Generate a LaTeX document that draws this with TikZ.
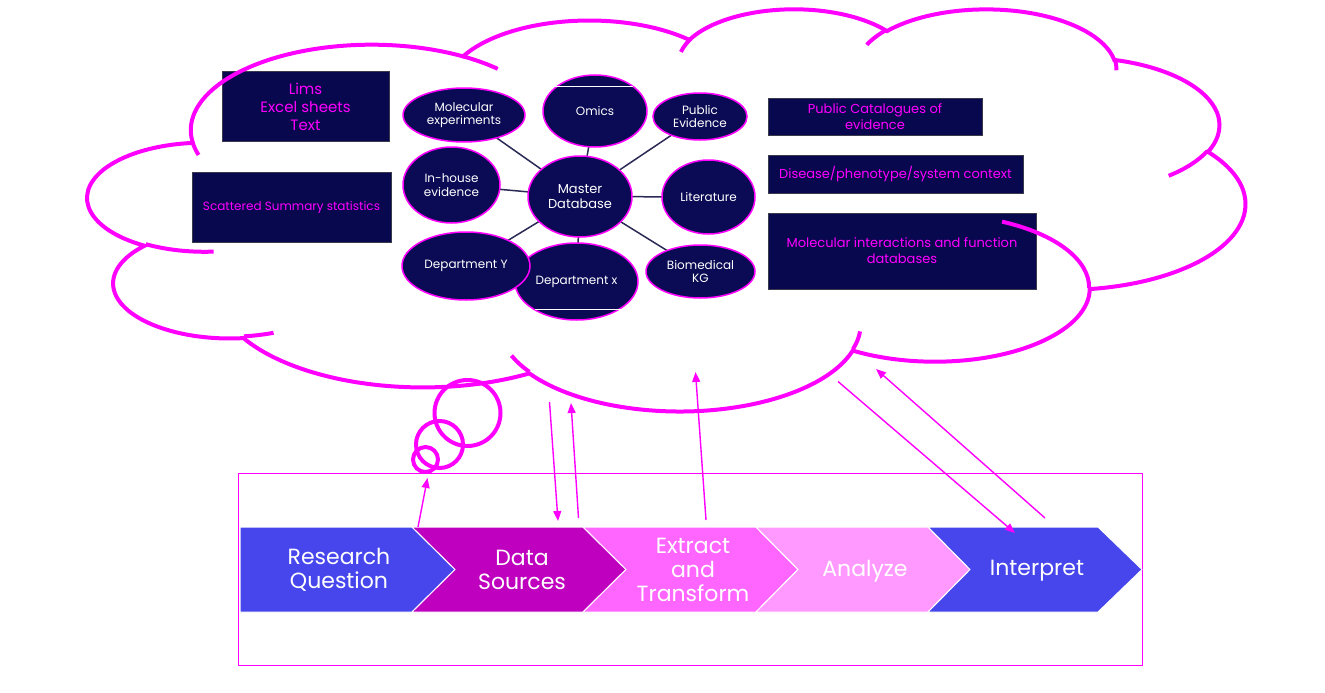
\documentclass[tikz,border=0pt]{standalone}
\usepackage{fontspec}
\setmainfont{Poppins}
\usetikzlibrary{shapes.geometric,arrows.meta}
\definecolor{mag}{HTML}{FF00FF}
\definecolor{navy}{HTML}{0A0A55}
\definecolor{boxnavy}{HTML}{08084F}
\definecolor{boxedge}{HTML}{3A3A4A}
\definecolor{linec}{HTML}{2A2A55}
\definecolor{rqblue}{HTML}{4646EC}
\definecolor{dsmag}{HTML}{BF00BF}
\definecolor{etpink}{HTML}{FF66FF}
\definecolor{anpink}{HTML}{FF99FF}
\newcommand\cldarc[4]{%
 \pgfextra{%
  \pgfmathparse{atan2((#1)*sin(#3),(#2)*cos(#3))}\let\cldt\pgfmathresult
  \pgfmathparse{\cldt+360*round(((#3)-\cldt)/360)}\global\let\cldtA\pgfmathresult
  \pgfmathparse{atan2((#1)*sin((#3)+(#4)),(#2)*cos((#3)+(#4)))}\let\cldt\pgfmathresult
  \pgfmathparse{\cldt+360*round(((#3)+(#4)-\cldt)/360)-\cldtA}\global\let\cldD\pgfmathresult
 }%
 arc[start angle=\cldtA, delta angle=\cldD, x radius=#1pt, y radius=#2pt]%
}
\tikzset{
  cloudline/.style={draw=mag, line width=4pt},
  darkbox/.style={draw=boxedge, line width=1pt, fill=boxnavy, text=mag, align=center, inner sep=0pt},
  ell/.style={ellipse, draw=mag, line width=1.5pt, fill=navy, text=white, inner sep=0pt, align=center, font=\fontsize{12}{13.5}\selectfont},
  spoke/.style={draw=linec, line width=1.5pt},
  chev/.style={fill=#1, draw=white, line width=1pt},
  chevtext/.style={text=white, align=center, font=\fontsize{22}{24}\selectfont},
  bubble/.style={draw=mag, line width=4pt},
  flow/.style={draw=mag, line width=1.4pt, -{Triangle[length=10pt,width=8pt]}},
}
\begin{document}
\begin{tikzpicture}[x=1pt,y=1pt,yscale=-1]
\useasboundingbox[fill=white] (0,0) rectangle (1325,693);

% dark boxes
\node[darkbox, minimum width=167, minimum height=69, font=\fontsize{15}{18}\selectfont] (lims) at (305.5,106.5) {Lims\\Excel sheets\\Text};
\node[darkbox, minimum width=199, minimum height=70, font=\fontsize{12}{14}\selectfont] (scat) at (291.5,207.5) {Scattered Summary statistics};
\node[darkbox, minimum width=214, minimum height=37, font=\fontsize{13}{16}\selectfont] (pubcat) at (875,116.5) {Public Catalogues of\\evidence};
\node[darkbox, minimum width=255, minimum height=38, font=\fontsize{13}{16}\selectfont] (dis) at (895.5,174.5) {Disease/phenotype/system context};
\node[darkbox, minimum width=268, minimum height=76, font=\fontsize{13}{16}\selectfont] (molint) at (902,251) {Molecular interactions and function\\databases};

% spokes
\coordinate (mc) at (580,196.5);
\foreach \p in {(464,115),(595,111),(700,116),(451,185),(708,197),(466,266),(576.5,281.5),(700,271)}
  \draw[spoke] (mc) -- \p;

% ellipses
\node[ell, minimum width=122, minimum height=54] (molexp) at (464,115) {Molecular\\experiments};
\node[ell, minimum width=104, minimum height=72] (omics) at (595,111) {Omics};
\node[ell, minimum width=94, minimum height=47] (pubev) at (700,116.5) {Public\\Evidence};
\node[ell, minimum width=97, minimum height=76] (inhouse) at (451.5,185) {In-house\\evidence};
\node[ell, minimum width=104, minimum height=81, font=\fontsize{13}{15}\selectfont] (master) at (580,196.5) {Master\\Database};
\node[ell, minimum width=93, minimum height=74] (lit) at (708.5,197) {Literature};
\node[ell, minimum width=123, minimum height=77] (deptx) at (576.5,281.5) {Department x};
\node[ell, minimum width=128, minimum height=68] (depty) at (466,266) {Department Y};
\node[ell, minimum width=109, minimum height=53] (bkg) at (700.5,271.5) {Biomedical\\KG};
\draw[white, line width=1pt] (548,86) -- (633,86);
\draw[white, line width=1pt] (535,309.5) -- (625,309.5);

% cloud
\begin{scope}[shift={(88,8)}, xscale=0.267824, yscale=0.093056]
\draw[cloudline] (390,1437)
  \cldarc{675.3}{919}{-190.4875}{123.7805}
  \cldarc{533.3}{726.7}{-144.1024}{89.9452}
  \cldarc{436.5}{594.5}{-145.8079}{99.7230}
  \cldarc{485.7}{659.5}{-130.9861}{117.2417}
  \cldarc{533.3}{727.3}{-78.7089}{109.0269}
  \cldarc{677.5}{922}{-46.2673}{130.2690}
  \cldarc{578.5}{786.7}{0.6250}{114.0333}
  \cldarc{675.2}{921.5}{22.4516}{115.1726}
  \cldarc{772}{1054.3}{66.2426}{75.7110}
  \cldarc{436}{591.8}{-274.9421}{146.7356}
  \cldarc{434.5}{594.5}{-246.8285}{152.5189}
  -- cycle;
\draw[cloudline]
  (469.3,2617.7) \cldarc{434.5}{594.5}{86.742}{26.4295}
  (692.8,3489.9) \cldarc{436}{591.8}{73.6105}{11.4475}
  (1647.8,3909) \cldarc{675.2}{921.5}{137.6242}{14.0811}
  (2882.7,3475.1) \cldarc{675.2}{921.5}{6.4533}{15.9984}
  (3412.9,2295.4) \cldarc{578.5}{786.7}{-70.2924}{70.9174}
  (4179.8,1535.4) \cldarc{533.3}{727.3}{30.318}{27.7515}
  (3832.4,542.6) \cldarc{485.7}{659.5}{-13.7443}{14.8589}
  (2907.8,395.2) \cldarc{485.7}{659.5}{-149.1815}{18.1954}
  (2214.1,472) \cldarc{436.5}{594.5}{-163.4943}{17.6864}
  (1400,519.2) \cldarc{675.3}{919}{-66.707}{12.3194}
  (412.7,1578.9) \cldarc{675.3}{919}{157.6544}{11.8582};
\end{scope}

% thought bubbles
\draw[bubble] (467.5,413) circle[radius=33];
\draw[bubble] (439.5,444.5) circle[radius=23.5];
\draw[bubble] (425.5,459.5) circle[radius=12.5];

% frame
\node[draw=mag, line width=1pt, minimum width=904, minimum height=192, inner sep=0pt] (frame) at (690,569) {};

% chevrons
\path[chev=rqblue] (240,527) -- (412,527) -- (455,569.5) -- (412,612) -- (240,612) -- cycle;
\path[chev=dsmag] (412,527) -- (583,527) -- (626,569.5) -- (583,612) -- (412,612) -- (455,569.5) -- cycle;
\path[chev=etpink] (583,527) -- (756,527) -- (798,569.5) -- (756,612) -- (583,612) -- (626,569.5) -- cycle;
\path[chev=anpink] (756,527) -- (928,527) -- (970,569.5) -- (928,612) -- (756,612) -- (798,569.5) -- cycle;
\path[chev=rqblue] (928,527) -- (1098,527) -- (1142,569.5) -- (1098,612) -- (928,612) -- (970,569.5) -- cycle;
\node[chevtext] (rq) at (339,570) {Research\\Question};
\node[chevtext] (ds) at (522,570) {Data\\Sources};
\node[chevtext] (et) at (693,569.5) {Extract\\and\\Transform};
\node[chevtext] (an) at (865,571) {Analyze};
\node[chevtext] (ip) at (1037,571) {Interpret};

% arrows
\coordinate (a1s) at (418,527); \coordinate (a1e) at (427.5,478);
\coordinate (a2s) at (549.5,402); \coordinate (a2e) at (558,521);
\coordinate (a3s) at (578.5,518); \coordinate (a3e) at (571,403);
\coordinate (a4s) at (706,520); \coordinate (a4e) at (695.5,372);
\coordinate (a5s) at (838,381.5); \coordinate (a5e) at (1015,533);
\coordinate (a6s) at (1045,518); \coordinate (a6e) at (876,369);
\draw[flow] (a1s) -- (a1e);
\draw[flow] (a2s) -- (a2e);
\draw[flow] (a3s) -- (a3e);
\draw[flow] (a4s) -- (a4e);
\draw[flow] (a5s) -- (a5e);
\draw[flow] (a6s) -- (a6e);
\end{tikzpicture}
\end{document}
